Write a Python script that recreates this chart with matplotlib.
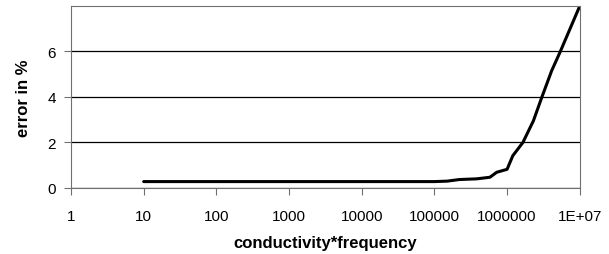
import matplotlib
matplotlib.use("Agg")
import matplotlib.pyplot as plt
from matplotlib.ticker import FixedLocator, FixedFormatter

plt.rcParams['font.family'] = ['Liberation Sans', 'DejaVu Sans']

x_vals = [10, 100, 1000, 10000, 100000, 150000, 220000, 380000, 580000, 720000,
          1000000, 1200000, 1650000, 2300000, 3000000, 4100000, 5400000, 10000000]
err_vals = [0.28, 0.28, 0.28, 0.28, 0.28, 0.3, 0.37, 0.4, 0.47, 0.69,
            0.82, 1.42, 2.0, 2.95, 3.98, 5.15, 6.0, 8.0]
x_ticks = [1, 10, 100, 1000, 10000, 100000, 1000000, 10000000]
x_ticklabels = ["1", "10", "100", "1000", "10000", "100000", "1000000", "1E+07"]
y_ticks = [0, 2, 4, 6]

fig = plt.figure(figsize=(6.09, 2.55), dpi=100)
ax = fig.add_axes([0.1166, 0.259, 0.8354, 0.7135])
ax.plot(x_vals, err_vals, color='black', lw=2.2, solid_capstyle='round')
ax.set_xscale('log')
ax.set_xlim(1, 1e7)
ax.set_ylim(0, 8)
ax.xaxis.set_major_locator(FixedLocator(x_ticks))
ax.xaxis.set_major_formatter(FixedFormatter(x_ticklabels))
ax.xaxis.set_minor_locator(FixedLocator([]))
ax.set_yticks(y_ticks)
ax.yaxis.grid(True, color='black', lw=0.9)
ax.set_axisbelow(True)
for s in ['top', 'right', 'left', 'bottom']:
    ax.spines[s].set_color('#707070')
    ax.spines[s].set_linewidth(0.8)
ax.tick_params(axis='x', direction='out', length=5, pad=10, labelsize=11, color='#707070')
ax.tick_params(axis='y', direction='out', length=5, pad=6, labelsize=11, color='#707070')
ax.set_xlabel('conductivity*frequency', fontsize=12, fontweight='bold', labelpad=9)
ax.set_ylabel('error in %', fontsize=12, fontweight='bold', labelpad=12)
fig.savefig('out.png', dpi=100)
